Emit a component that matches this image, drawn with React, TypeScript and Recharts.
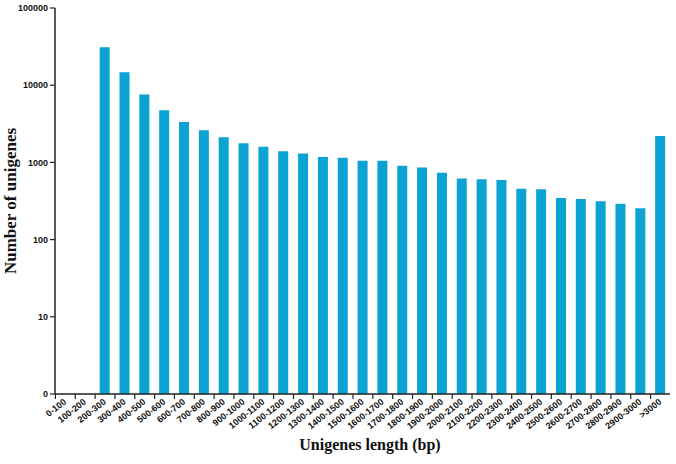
import React from "react";
import { BarChart, Bar, XAxis, YAxis, Label } from "recharts";

const categories = [
  "0-100", "100-200", "200-300", "300-400", "400-500", "500-600", "600-700",
  "700-800", "800-900", "900-1000", "1000-1100", "1100-1200", "1200-1300",
  "1300-1400", "1400-1500", "1500-1600", "1600-1700", "1700-1800", "1800-1900",
  "1900-2000", "2000-2100", "2100-2200", "2200-2300", "2300-2400", "2400-2500",
  "2500-2600", "2600-2700", "2700-2800", "2800-2900", "2900-3000", ">3000"
];

const counts = [
  null, null, 31000, 14700, 7600, 4750, 3330, 2600, 2110, 1770, 1600, 1390,
  1300, 1175, 1150, 1050, 1050, 905, 860, 735, 620, 605, 590, 455, 448, 346,
  336, 313, 292, 254, 2200
];

const yTicks = [1, 10, 100, 1000, 10000, 100000];

const data = categories.map((name, i) => ({ name, value: counts[i] }));

const tickFont = "'Liberation Sans', Arial, sans-serif";
const titleFont = "'Liberation Serif', 'Times New Roman', serif";

// tick marks sit at the band edges, labels hang off the band centre
const XTick = (props: any) => {
  const { x, y, payload } = props;
  const ax = x + 2;
  const ay = y + 1;
  return (
    <g>
      <line x1={x - 9.5} y1={y - 8} x2={x - 9.5} y2={y - 3} stroke="#222" strokeWidth={1.2} />
      <text
        x={ax}
        y={ay}
        textAnchor="end"
        transform={`rotate(-38, ${ax}, ${ay})`}
        fontFamily={tickFont}
        fontWeight="bold"
        fontSize={9}
        fill="#111"
      >
        {payload.value}
      </text>
    </g>
  );
};

export default function App() {
  return (
    <div style={{ position: "absolute", left: 0, top: 0, background: "#fff" }}>
      <BarChart
        width={676}
        height={464}
        data={data}
        margin={{ top: 8, right: 6, left: 0, bottom: 0 }}
        barCategoryGap={0}
      >
        <XAxis
          dataKey="name"
          interval={0}
          height={70}
          tickLine={false}
          tick={<XTick />}
          axisLine={{ stroke: "#222", strokeWidth: 1.5 }}
        >
          <Label
            content={(p: any) => {
              const vb = p.viewBox;
              return (
                <text
                  x={370}
                  y={vb.y + 56}
                  textAnchor="middle"
                  fontFamily={titleFont}
                  fontWeight="bold"
                  fontSize={16}
                  fill="#111"
                >
                  Unigenes length (bp)
                </text>
              );
            }}
          />
        </XAxis>
        <YAxis
          scale="log"
          domain={[1, 100000]}
          ticks={yTicks}
          allowDataOverflow
          width={55}
          tickSize={5}
          tickLine={{ stroke: "#222", strokeWidth: 1.2 }}
          axisLine={{ stroke: "#222", strokeWidth: 1.5 }}
          tickFormatter={(v: number) => (v === 1 ? "0" : String(v))}
          tick={{ fontFamily: tickFont, fontWeight: "bold", fontSize: 9, fill: "#111" }}
        >
          <Label
            content={(p: any) => {
              const vb = p.viewBox;
              const cy = vb.y + vb.height / 2;
              return (
                <text
                  x={16}
                  y={cy}
                  textAnchor="middle"
                  transform={`rotate(-90, 16, ${cy})`}
                  fontFamily={titleFont}
                  fontWeight="bold"
                  fontSize={17}
                  fill="#111"
                >
                  Number of unigenes
                </text>
              );
            }}
          />
        </YAxis>
        <Bar dataKey="value" fill="#0ba2d4" barSize={10} isAnimationActive={false} />
      </BarChart>
    </div>
  );
}
